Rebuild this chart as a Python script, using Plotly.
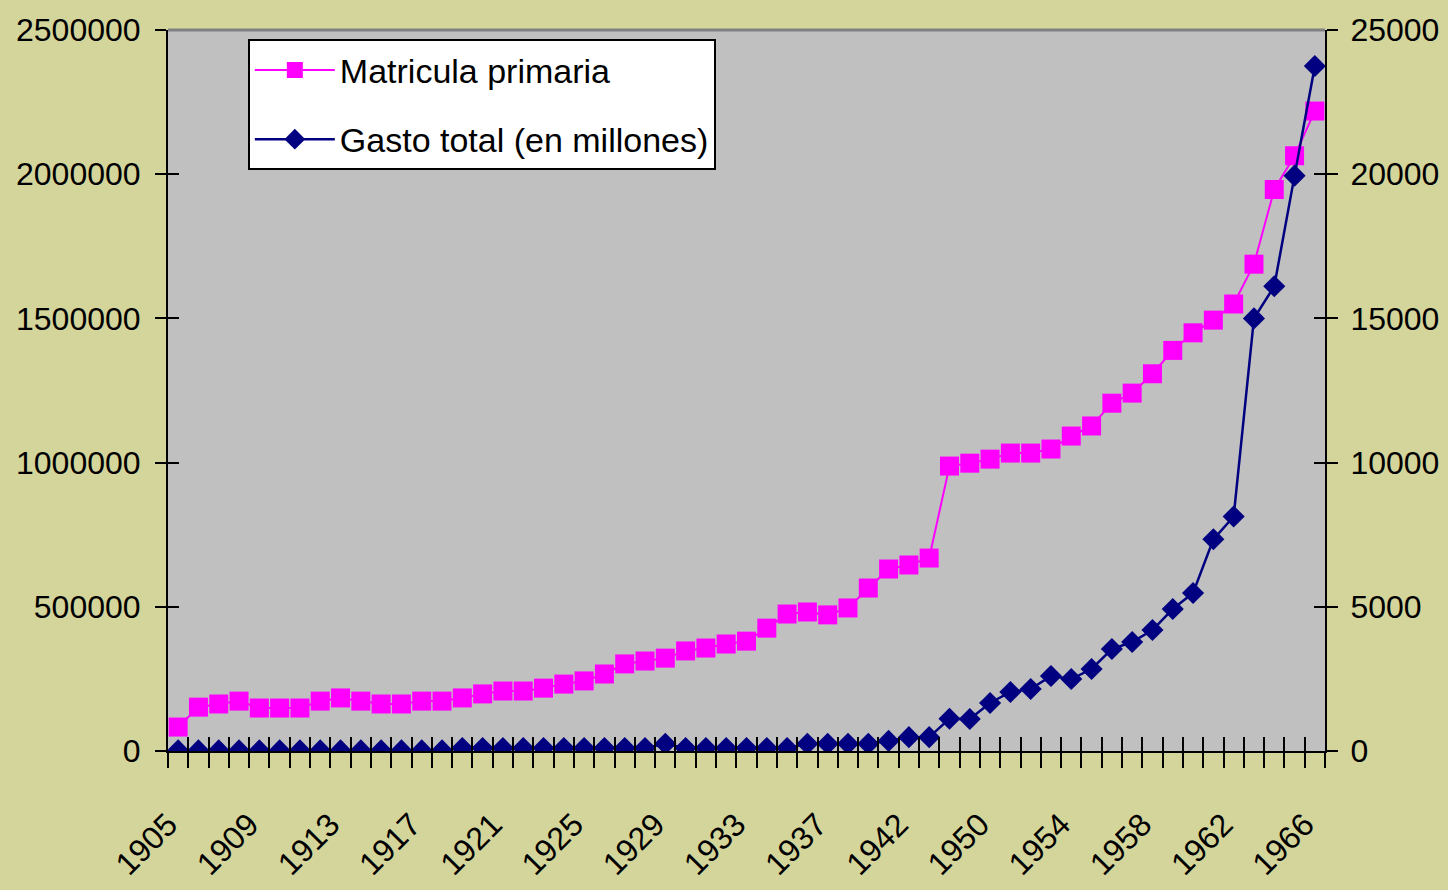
import plotly.graph_objects as go

# ---- data ----
years = list(range(1905, 1938)) + [1938, 1939, 1940, 1942, 1944, 1946, 1948] + list(range(1950, 1967))

matricula = [83000, 152000, 163000, 173000, 149000, 149000, 149000, 173000, 184000, 173000,
             163000, 163000, 173000, 173000, 184000, 198000, 208000, 208000, 218000, 232000,
             243000, 267000, 302000, 312000, 322000, 347000, 357000, 371000, 381000, 426000,
             475000, 482000, 472000, 496000, 565000, 631000, 645000, 669000, 988000, 998000,
             1012000, 1033000, 1033000, 1047000, 1092000, 1127000, 1206000, 1241000, 1308000, 1389000,
             1450000, 1494000, 1550000, 1688000, 1947000, 2064000, 2219000]

gasto = [20, 20, 20, 20, 20, 20, 20, 20, 20, 20,
         20, 20, 20, 20, 100, 100, 100, 100, 100, 100,
         100, 100, 100, 100, 250, 100, 100, 100, 100, 100,
         100, 250, 250, 250, 250, 350, 480, 480, 1120, 1110,
         1664, 2045, 2150, 2600, 2496, 2843, 3536, 3779, 4195, 4923,
         5478, 7340, 8130, 15000, 16114, 19950, 23750]

left_ticks = [0, 500000, 1000000, 1500000, 2000000, 2500000]
right_ticks = [0, 5000, 10000, 15000, 20000, 25000]

idx = list(range(len(years)))
label_idx = idx[::4]
label_txt = [str(years[i]) for i in label_idx]
label_pos = [i - 0.5 for i in label_idx]  # rotated labels end at the category centre
boundaries = [i - 0.5 for i in idx] + [idx[-1] + 0.5]
xr = [-0.5, idx[-1] + 0.5]

FONT = "Liberation Sans, Arial, sans-serif"
FS = 32
PINK = "#FF00FF"
NAVY = "#000080"

fig = go.Figure()
fig.add_trace(go.Scatter(
    x=idx, y=matricula, name="Matricula primaria", mode="lines+markers",
    line=dict(color=PINK, width=2),
    marker=dict(symbol="square", size=19, color=PINK),
    xaxis="x", yaxis="y", legendgroup="a", hoverinfo="skip"))
fig.add_trace(go.Scatter(
    x=idx, y=gasto, name="Gasto total (en millones)", mode="lines+markers",
    line=dict(color=NAVY, width=2.5),
    marker=dict(symbol="diamond", size=17, color=NAVY),
    xaxis="x", yaxis="y2", legendgroup="b", hoverinfo="skip"))
# empty helper traces so the overlay axes carrying the inner half of the cross ticks are drawn
for ya in ("y3", "y4"):
    fig.add_trace(go.Scatter(x=[], y=[], xaxis="x2", yaxis=ya, mode="markers",
                             showlegend=False, hoverinfo="skip"))

common_y = dict(showgrid=False, zeroline=False, tickcolor="black", tickwidth=2,
                automargin=False,
                tickfont=dict(family=FONT, size=FS, color="black"))

fig.update_layout(
    width=1448, height=890, autosize=False,
    margin=dict(l=168, r=123, t=30, b=139),
    paper_bgcolor="#D4D59B",
    plot_bgcolor="#C0C0C0",
    font=dict(family=FONT, size=FS, color="black"),
    showlegend=True,
    hovermode=False,
    legend=dict(x=0.069, y=0.987, xanchor="left", yanchor="top",
                bgcolor="white", bordercolor="black", borderwidth=2,
                font=dict(family=FONT, size=34, color="black"),
                traceorder="grouped", tracegroupgap=22, itemwidth=80),
    xaxis=dict(range=xr, tickmode="array", tickvals=label_pos, ticktext=label_txt,
               tickangle=-45, ticks="", showgrid=False, zeroline=False,
               showline=True, linecolor="black", linewidth=2, automargin=False,
               tickfont=dict(family=FONT, size=FS, color="black"),
               ticklabelstandoff=40,
               minor=dict(tickmode="array", tickvals=boundaries, ticks="outside",
                          ticklen=15, tickwidth=2, tickcolor="black", showgrid=False)),
    xaxis2=dict(range=xr, overlaying="x", anchor="y", side="bottom",
                tickmode="array", tickvals=boundaries, ticks="inside", ticklen=14,
                tickwidth=2, tickcolor="black", showticklabels=False, automargin=False,
                showgrid=False, zeroline=False, showline=False),
    yaxis=dict(range=[0, 2500000], tickmode="array", tickvals=left_ticks,
               tickformat="d", ticks="outside", ticklen=11,
               showline=True, linecolor="black", linewidth=2,
               ticklabelstandoff=8, **common_y),
    yaxis2=dict(range=[0, 25000], tickmode="array", tickvals=right_ticks,
                tickformat="d", ticks="outside", ticklen=11, overlaying="y",
                side="right", anchor="x",
                showline=True, linecolor="black", linewidth=2,
                ticklabelstandoff=6, **common_y),
    yaxis3=dict(range=[0, 2500000], tickmode="array", tickvals=left_ticks,
                ticks="inside", ticklen=11, overlaying="y", side="left", anchor="x",
                showticklabels=False, showline=False, **common_y),
    yaxis4=dict(range=[0, 25000], tickmode="array", tickvals=right_ticks,
                ticks="inside", ticklen=11, overlaying="y", side="right", anchor="x",
                showticklabels=False, showline=False, **common_y),
    shapes=[dict(type="line", xref="paper", yref="paper", x0=0, x1=1, y0=1, y1=1,
                 line=dict(color="#808080", width=3), layer="above")],
)

fig.write_html("out.html", config={"displayModeBar": False, "staticPlot": True},
               post_script="document.body.style.margin='0';")
